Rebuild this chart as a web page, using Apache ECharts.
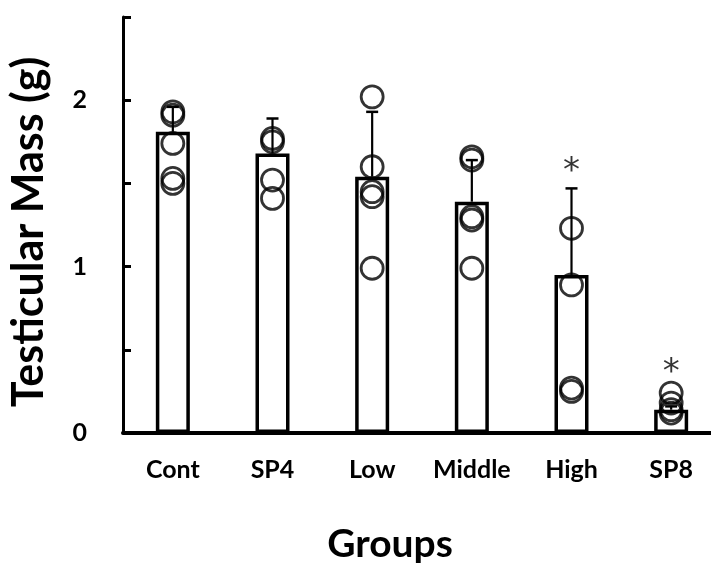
<!DOCTYPE html>
<html>
<head>
<meta charset="utf-8">
<script src="https://cdn.jsdelivr.net/npm/echarts@6/dist/echarts.min.js"></script>
<style>
  html, body { margin: 0; padding: 0; background: #fff; }
  #main { width: 711px; height: 566px; }
</style>
</head>
<body>
<div id="main"></div>
<script>
  // 分组
  var groups = ['Cont', 'SP4', 'Low', 'Middle', 'High', 'SP8'];
  // 均值与误差上端
  var means = [1.81, 1.68, 1.54, 1.39, 0.95, 0.14];
  var errTops = [1.96, 1.89, 1.93, 1.64, 1.47, 0.16];
  // 各组个体数据点
  var pointsCont = [1.93, 1.91, 1.74, 1.53, 1.50];
  var pointsSP4 = [1.77, 1.75, 1.52, 1.41];
  var pointsLow = [2.02, 1.60, 1.45, 1.42, 0.99];
  var pointsMiddle = [1.66, 1.64, 1.30, 1.28, 0.99];
  var pointsHigh = [1.23, 0.89, 0.27, 0.25];
  var pointsSP8 = [0.24, 0.18, 0.14, 0.12];
  // 显著性标记 (组, 位置)
  var starGroups = ['High', 'SP8'];
  var starValues = [1.57, 0.36];
  var yTicks = [0, 1, 2];

  var allPoints = [pointsCont, pointsSP4, pointsLow, pointsMiddle, pointsHigh, pointsSP8];
  var scatterData = [];
  allPoints.forEach(function (list, i) {
    list.forEach(function (v) {
      scatterData.push([groups[i], v]);
    });
  });
  var errData = groups.map(function (g, i) {
    return [i, means[i], errTops[i]];
  });
  var starData = starGroups.map(function (g, i) {
    return [g, starValues[i]];
  });

  var font = 'Lato';
  var myChart = echarts.init(document.getElementById('main'));
  var option = {
    animation: false,
    grid: {
      left: 123,
      right: -10,
      top: 17,
      bottom: 133,
      outerBoundsMode: 'none'
    },
    xAxis: {
      type: 'category',
      data: groups,
      name: 'Groups',
      nameLocation: 'middle',
      nameGap: 92,
      nameTextStyle: {
        fontFamily: font,
        fontWeight: 'bold',
        fontSize: 39,
        color: '#000',
        padding: [0, 64, 0, 0]
      },
      axisLine: { lineStyle: { color: '#000', width: 4 } },
      axisTick: { show: false },
      axisLabel: {
        interval: 0,
        hideOverlap: false,
        margin: 24,
        fontFamily: font,
        fontWeight: 'bold',
        fontSize: 25,
        color: '#000'
      }
    },
    yAxis: {
      type: 'value',
      min: 0,
      max: 2.5,
      interval: 0.5,
      name: 'Testicular Mass (g)',
      nameLocation: 'middle',
      nameGap: 72,
      nameTextStyle: {
        fontFamily: font,
        fontWeight: 'bold',
        fontSize: 43,
        color: '#000',
        padding: [0, 14, 0, 0]
      },
      splitLine: { show: false },
      axisLine: { show: true, lineStyle: { color: '#000', width: 3 } },
      axisTick: { show: true, inside: true, length: 8, lineStyle: { color: '#000', width: 3 } },
      axisLabel: {
        margin: 36,
        fontFamily: font,
        fontWeight: 'bold',
        fontSize: 25,
        color: '#000',
        formatter: function (v) {
          return yTicks.indexOf(v) >= 0 ? String(v) : '';
        }
      }
    },
    series: [
      {
        type: 'bar',
        data: means,
        barWidth: 34,
        itemStyle: { color: '#fff', borderColor: '#000', borderWidth: 3.5 },
        z: 1
      },
      {
        type: 'custom',
        data: errData,
        z: 2,
        renderItem: function (params, api) {
          var x = api.value(0);
          var lo = api.coord([x, api.value(1)]);
          var hi = api.coord([x, api.value(2)]);
          var cap = 6;
          return {
            type: 'group',
            children: [
              { type: 'line', shape: { x1: lo[0], y1: lo[1], x2: hi[0], y2: hi[1] }, style: { stroke: '#000', lineWidth: 2.2 } },
              { type: 'line', shape: { x1: hi[0] - cap, y1: hi[1], x2: hi[0] + cap, y2: hi[1] }, style: { stroke: '#000', lineWidth: 2.5 } }
            ]
          };
        }
      },
      {
        type: 'scatter',
        data: scatterData,
        symbol: 'circle',
        symbolSize: 22,
        itemStyle: { color: 'rgba(0,0,0,0)', borderColor: '#000', borderWidth: 2.8 },
        z: 3
      },
      {
        type: 'scatter',
        data: starData,
        symbolSize: 0,
        label: {
          show: true,
          position: 'inside',
          formatter: '*',
          fontFamily: 'DejaVu Sans',
          fontSize: 34,
          color: '#000'
        },
        z: 4
      }
    ]
  };
  myChart.setOption(option);
</script>
</body>
</html>
